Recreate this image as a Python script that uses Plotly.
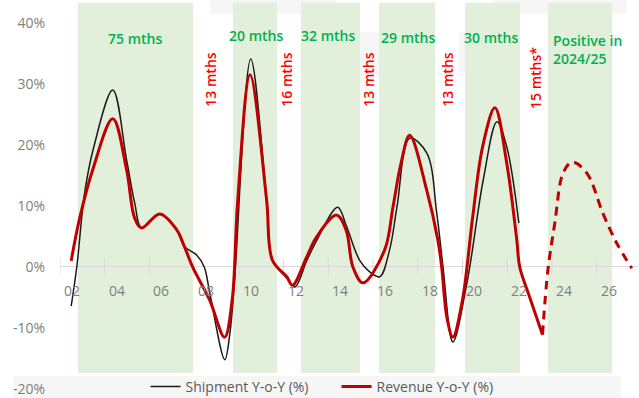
import plotly.graph_objects as go

# ---------------- data ----------------
ship_x = [2002.0, 2002.25, 2002.6, 2003.0, 2003.86, 2004.48, 2004.84, 2005.15, 2005.96, 2006.72,
          2007.07, 2007.6, 2007.95, 2008.2, 2008.87, 2009.1, 2009.3, 2010.03, 2010.74, 2011.0,
          2011.64, 2012.0, 2012.53, 2013.0, 2013.92, 2014.3, 2014.9, 2015.35, 2015.8, 2016.24,
          2016.57, 2017.14, 2017.9, 2018.35, 2018.63, 2019.07, 2019.7, 2020.43, 2021.04, 2021.48, 2022.02]
ship_y = [-6.4, 0.0, 12.1, 19.5, 29.0, 17.5, 10.5, 6.4, 8.7, 6.1,
          3.3, 2.0, 0.0, -4.3, -15.2, -10.8, -2.6, 34.1, 11.0, 1.2,
          -1.8, -3.3, 1.0, 4.5, 9.8, 6.8, 1.1, -0.8, -1.6, 2.8,
          9.8, 21.1, 18.7, 8.8, 0.0, -12.3, -2.6, 14.3, 23.8, 19.7, 7.2]

rev_x = [2002.0, 2002.38, 2002.96, 2003.86, 2004.48, 2004.84, 2005.15, 2005.96, 2006.72, 2007.07,
         2007.43, 2008.19, 2008.86, 2009.2, 2009.45, 2010.0, 2010.74, 2011.0, 2011.64, 2011.9,
         2012.53, 2012.97, 2013.87, 2014.3, 2014.6, 2015.05, 2016.02, 2016.39, 2016.75, 2017.14,
         2017.9, 2018.4, 2018.57, 2018.8, 2019.07, 2019.5, 2019.95, 2020.4, 2020.95, 2021.48,
         2021.93, 2022.06, 2022.5, 2023.08]
rev_y = [1.0, 8.0, 15.9, 24.3, 15.9, 8.0, 6.4, 8.7, 6.1, 3.3,
         0.0, -5.4, -11.5, -5.4, 11.0, 31.5, 11.0, 1.1, -1.6, -3.0,
         1.6, 4.9, 8.5, 6.0, 0.0, -2.6, 2.8, 9.8, 17.0, 21.6,
         12.6, 4.4, 0.0, -8.2, -11.5, -5.4, 8.0, 19.7, 26.1, 17.0,
         4.4, 0.0, -4.9, -11.1]

fc_x = [2023.08, 2023.32, 2023.63, 2024.0, 2024.4, 2025.06, 2025.78, 2026.4, 2027.07]
fc_y = [-11.1, -0.5, 7.2, 15.4, 17.2, 15.4, 8.8, 3.9, -0.2]

shade_start = [2002.30, 2009.24, 2012.28, 2015.77, 2019.61, 2023.32]
shade_end = [2007.45, 2011.21, 2014.92, 2018.27, 2022.07, 2026.19]

green_labels = ["75 mths", "20 mths", "32 mths", "29 mths", "30 mths"]
red_labels = ["13 mths", "16 mths", "13 mths", "13 mths", "15 mths*"]
forecast_label = "Positive in<br>2024/25"

xtick_years = [2002, 2004, 2006, 2008, 2010, 2012, 2014, 2016, 2018, 2020, 2022, 2024, 2026]
xtick_labels = ["02", "04", "06", "08", "10", "12", "14", "16", "18", "20", "22", "24", "26"]
ytick_vals = [-20, -10, 0, 10, 20, 30, 40]
ytick_labels = ["-20%", "-10%", "0%", "10%", "20%", "30%", "40%"]

# ---------------- figure ----------------
FONT = "Open Sans"
RED = "#c00000"
GREEN = "#00b050"
AXIS_GRAY = "#dcd6de"

fig = go.Figure()

# shaded periods
for s, e in zip(shade_start, shade_end):
    fig.add_shape(type="rect", xref="x", yref="y", x0=s, x1=e, y0=-17.4, y1=43.3,
                  fillcolor="#e2efda", line_width=0, layer="below")

# faint blurred artefacts of the original image
for x0, x1, y0, y1 in [(0.26, 0.48, 0.965, 1.0), (0.75, 0.98, 0.965, 1.0),
                       (0.48, 0.57, 0.81, 0.92), (0.69, 0.75, 0.82, 0.92),
                       (-0.08, 0.97, 0.0, 0.055)]:
    fig.add_shape(type="rect", xref="paper", yref="paper", x0=x0, x1=x1, y0=y0, y1=y1,
                  fillcolor="rgba(0,0,0,0.035)", line_width=0, layer="below")

# cross tick marks on the zero axis (category boundaries, half a year before each label)
tick_pos = [y - 0.5 for y in xtick_years]
fig.add_trace(go.Scatter(
    x=tick_pos, y=[0] * len(tick_pos), mode="markers",
    marker=dict(symbol="line-ns", size=12, line=dict(color=AXIS_GRAY, width=1)),
    showlegend=False, hoverinfo="skip"))

fig.add_trace(go.Scatter(
    x=ship_x, y=ship_y, mode="lines", name="Shipment Y-o-Y (%)",
    line=dict(color="#1a1a1a", width=1.5, shape="spline", smoothing=1.0)))
fig.add_trace(go.Scatter(
    x=rev_x, y=rev_y, mode="lines", name="Revenue Y-o-Y (%)",
    line=dict(color=RED, width=3, shape="spline", smoothing=1.0)))
fig.add_trace(go.Scatter(
    x=fc_x, y=fc_y, mode="lines", showlegend=False,
    line=dict(color=RED, width=3, shape="spline", smoothing=1.0, dash="9px,6px")))

# x tick labels hanging below the zero line (about 23 px = 3.8 points below it)
for tp, lab in zip(tick_pos, xtick_labels):
    fig.add_annotation(x=tp, y=-3.8, xref="x", yref="y", text=lab, showarrow=False,
                       xshift=12, xanchor="center", yanchor="middle",
                       font=dict(family=FONT, size=14, color="#808080"))

# green period labels
green_pos = [(2004.85, 37.5), (2010.27, 37.9), (2013.49, 38.0), (2017.06, 37.7), (2020.78, 37.7)]
for txt, (px, py) in zip(green_labels, green_pos):
    fig.add_annotation(x=px, y=py, xref="x", yref="y", text=txt, showarrow=False,
                       font=dict(family=FONT, size=14, color=GREEN, weight=600),
                       xanchor="center", yanchor="middle")
fig.add_annotation(x=2023.46, y=35.6, xref="x", yref="y", text=forecast_label, showarrow=False,
                   align="left", xanchor="left", yanchor="middle",
                   font=dict(family=FONT, size=14, color=GREEN, weight=600))

# red vertical downturn labels
red_pos = [(2008.25, 30.7), (2011.65, 30.7), (2015.32, 30.7), (2018.85, 30.7), (2022.79, 31.0)]
for txt, (px, py) in zip(red_labels, red_pos):
    fig.add_annotation(x=px, y=py, xref="x", yref="y", text=txt, showarrow=False, textangle=-90,
                       font=dict(family=FONT, size=14, color="#ff0000", weight=600),
                       xanchor="center", yanchor="middle")

fig.update_layout(
    width=639, height=398,
    margin=dict(l=60, r=1, t=0, b=0, autoexpand=False),
    paper_bgcolor="white", plot_bgcolor="white",
    font=dict(family=FONT, size=13, color="#808080"),
    showlegend=True,
    legend=dict(orientation="h", x=0.148, y=0.0276, xanchor="left", yanchor="middle",
                bgcolor="rgba(0,0,0,0)", font=dict(family=FONT, size=14, color="#595959"),
                entrywidth=146, itemwidth=30),
    xaxis=dict(range=[2001.5, 2027.35], showticklabels=False, ticks="",
               showline=False, showgrid=False, zeroline=False),
    yaxis=dict(range=[-21.48, 43.77], tickvals=ytick_vals, ticktext=ytick_labels,
               tickfont=dict(family=FONT, size=14, color="#808080"),
               ticks="", ticklabelstandoff=14,
               showgrid=False, showline=False,
               zeroline=True, zerolinecolor=AXIS_GRAY, zerolinewidth=1),
)

fig.write_html("out.html")
